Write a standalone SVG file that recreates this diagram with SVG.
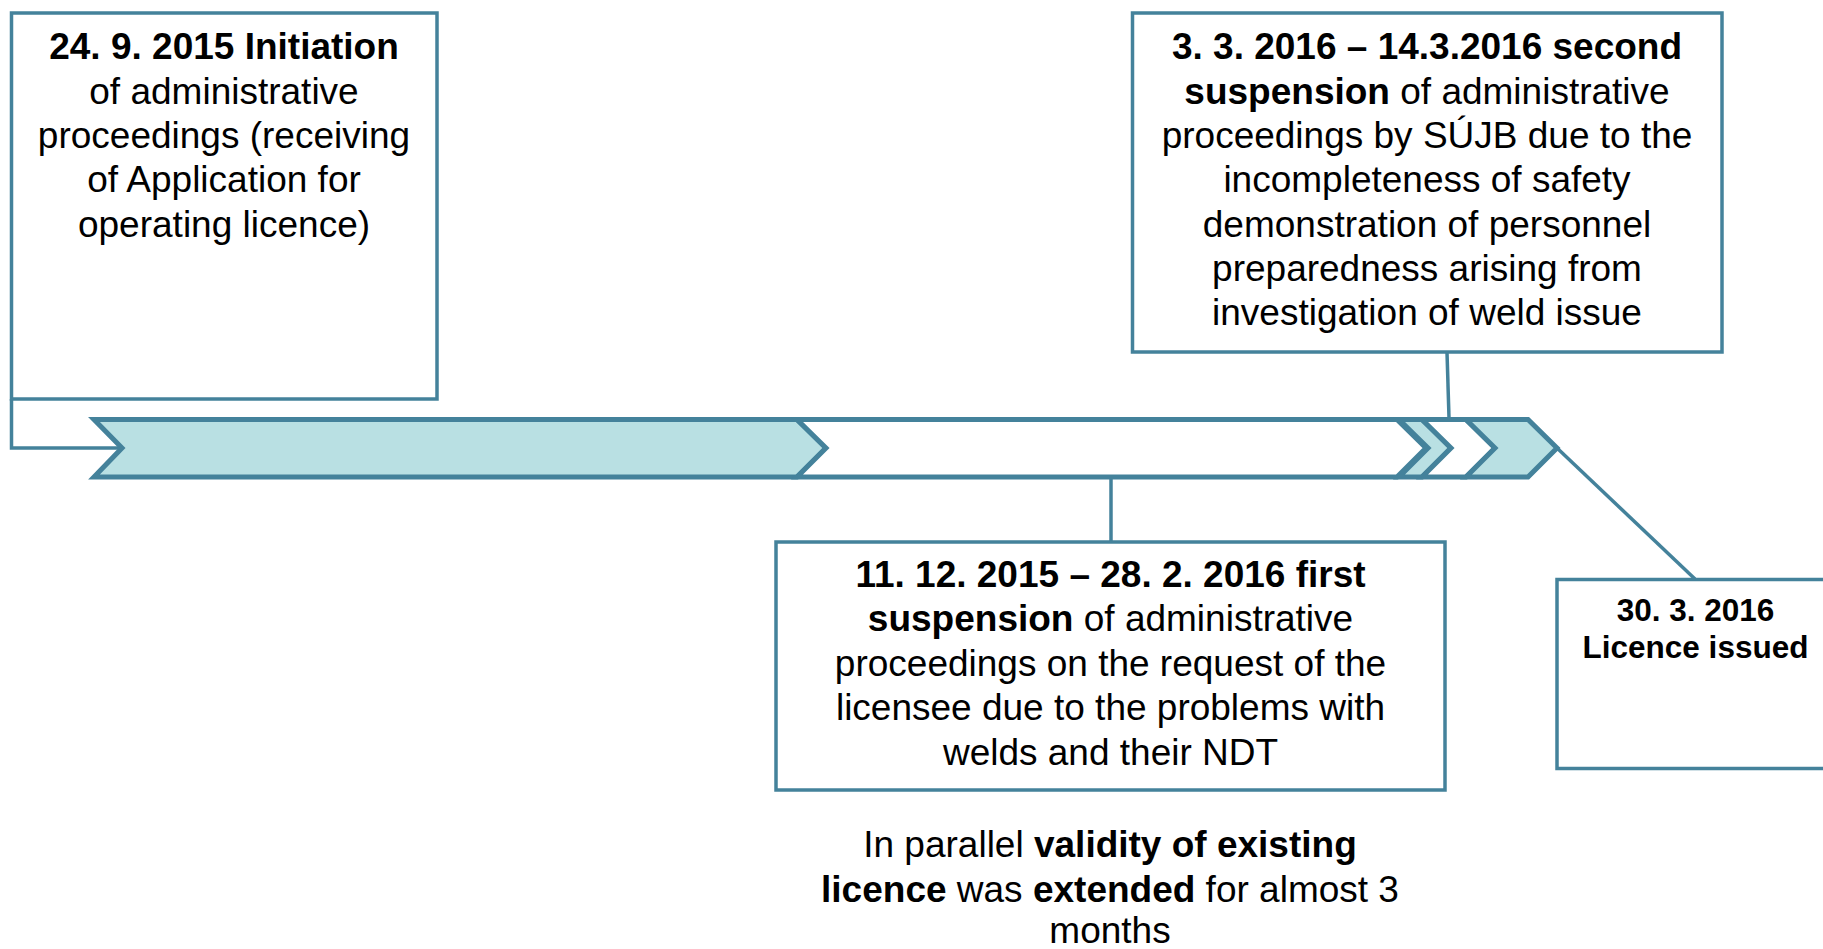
<svg xmlns="http://www.w3.org/2000/svg" width="1823" height="949" viewBox="0 0 1823 949">
<style>
.box{fill:#FFFFFF;stroke:#44829B;stroke-width:3.5}
.chev{stroke:#44829B;stroke-width:5;stroke-linejoin:miter}
.teal{fill:#B9E0E3}
.white{fill:#FFFFFF}
.conn{fill:none;stroke:#44829B;stroke-width:3.5}
text{font-family:"Liberation Sans",Arial,sans-serif;font-size:37px;fill:#000;text-anchor:middle}
.b{font-weight:bold}
.small{font-size:31.5px}
</style>
<rect width="1823" height="949" fill="#FFFFFF"/>
<g id="timeline">
<polygon class="chev teal" points="94,419.5 797,419.5 826,448 797,477 94,477 122,448"/>
<polygon class="chev white" points="797,419.5 1397,419.5 1426,448 1397,477 797,477 826,448"/>
<polygon class="chev teal" points="1399,419.5 1422,419.5 1451,448 1422,477 1399,477 1428,448"/>
<polygon class="chev white" points="1422,419.5 1466,419.5 1495,448 1466,477 1422,477 1451,448"/>
<polygon class="chev teal" points="1466,419.5 1528,419.5 1557,448 1528,477 1466,477 1495,448"/>
</g>
<g id="connectors">
<polyline class="conn" points="11.5,399 11.5,448 122,448"/>
<line class="conn" x1="1447" y1="352" x2="1449" y2="418"/>
<line class="conn" x1="1111" y1="477" x2="1111" y2="542"/>
<line class="conn" x1="1557" y1="448" x2="1695" y2="579"/>
</g>
<g id="node-initiation">
<rect class="box" x="11.5" y="13" width="425.5" height="386"/>
<text x="224" y="59.3" class="b">24. 9. 2015 Initiation</text>
<text x="224" y="103.7">of administrative</text>
<text x="224" y="148">proceedings (receiving</text>
<text x="224" y="192.4">of Application for</text>
<text x="224" y="236.7">operating licence)</text>
</g>
<g id="node-second-suspension">
<rect class="box" x="1132.5" y="13" width="589.5" height="339"/>
<text x="1427" y="59.3" class="b">3. 3. 2016 – 14.3.2016 second</text>
<text x="1427" y="103.7"><tspan class="b">suspension</tspan> of administrative</text>
<text x="1427" y="148">proceedings by SÚJB due to the</text>
<text x="1427" y="192.4">incompleteness of safety</text>
<text x="1427" y="236.7">demonstration of personnel</text>
<text x="1427" y="281.1">preparedness arising from</text>
<text x="1427" y="325.4">investigation of weld issue</text>
</g>
<g id="node-first-suspension">
<rect class="box" x="776" y="542" width="669" height="248"/>
<text x="1110.5" y="586.7" class="b">11. 12. 2015 – 28. 2. 2016 first</text>
<text x="1110.5" y="631.3"><tspan class="b">suspension</tspan> of administrative</text>
<text x="1110.5" y="675.9">proceedings on the request of the</text>
<text x="1110.5" y="720.4">licensee due to the problems with</text>
<text x="1110.5" y="765">welds and their NDT</text>
</g>
<g id="note-validity">
<text x="1110" y="857"><tspan>In parallel </tspan><tspan class="b">validity of existing</tspan></text>
<text x="1110" y="901.5"><tspan class="b">licence</tspan><tspan> was </tspan><tspan class="b">extended</tspan><tspan> for almost 3</tspan></text>
<text x="1110" y="943">months</text>
</g>
<g id="node-licence-issued">
<rect class="box" x="1557" y="579.5" width="280" height="189"/>
<text x="1695.5" y="620.7" class="b small">30. 3. 2016</text>
<text x="1695.5" y="658.3" class="b small">Licence issued</text>
</g>
</svg>
